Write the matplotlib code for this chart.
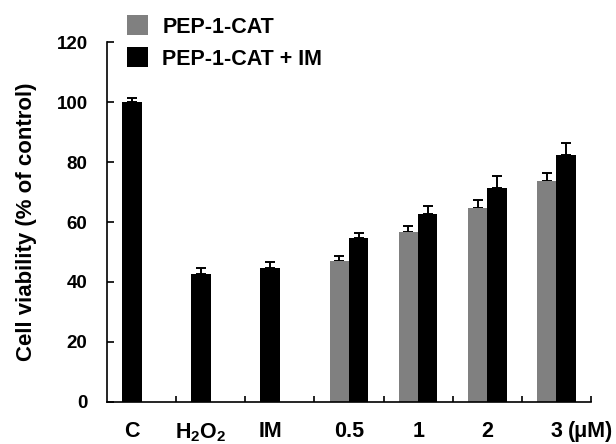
import numpy as np
import matplotlib
matplotlib.use('Agg')
import matplotlib.pyplot as plt
from matplotlib.patches import Patch

plt.rcParams['font.family'] = ['Liberation Sans', 'DejaVu Sans']
plt.rcParams['font.weight'] = 'bold'
plt.rcParams['mathtext.fontset'] = 'custom'
plt.rcParams['mathtext.rm'] = 'Liberation Sans:bold'
plt.rcParams['mathtext.bf'] = 'Liberation Sans:bold'

# --- data ---
categories = ['C', r'H$_2$O$_2$', 'IM', '0.5', '1', '2', '3']
cat_val = [100, 42.7, 44.5, 46.9, 56.5, 64.7, 73.8]     # left slot (gray series; black for controls)
cat_err = [1.5, 1.8, 2.3, 1.9, 2.3, 2.7, 2.6]
im_val = [np.nan, np.nan, np.nan, 54.7, 62.8, 71.3, 82.4]   # PEP-1-CAT + IM
im_err = [0, 0, 0, 1.7, 2.6, 4.2, 4.1]
left_colors = ['black', 'black', 'black', '#808080', '#808080', '#808080', '#808080']

GRAY = '#808080'
fig = plt.figure(figsize=(6.16, 4.44), dpi=100)
ax = fig.add_axes([0.1737, 0.0946, 0.7857, 0.8108])

x = np.arange(len(categories))
w = 0.28

ax.bar(x - w / 2, cat_val, w, color=left_colors, edgecolor='none', zorder=2)
ax.bar(x + w / 2, im_val, w, color='black', edgecolor='none', zorder=2)

ekw = dict(fmt='none', ecolor='black', elinewidth=1.4, capsize=3.3, capthick=1.4, zorder=1)
ax.errorbar(x - w / 2, cat_val, yerr=[np.zeros(len(x)), cat_err], **ekw)
ax.errorbar(x + w / 2, im_val, yerr=[np.zeros(len(x)), im_err], **ekw)

ax.set_xlim(-0.5, len(x) - 0.5)
ax.set_ylim(0, 120)
ax.set_yticks(np.arange(0, 121, 20))
ax.tick_params(axis='y', direction='in', length=5, width=1.2, pad=14, labelsize=13.5)

# single-bar groups are labelled under their bar, pairs under the group centre
label_pos = np.where(np.isnan(im_val), x - w / 2, x)
ax.set_xticks(label_pos)
ax.set_xticklabels(categories, fontsize=15.5, fontweight='bold')
ax.tick_params(axis='x', length=0, pad=14)
ax.set_xticks(np.arange(0.5, len(x), 1.0), minor=True)
ax.tick_params(axis='x', which='minor', direction='in', length=4.5, width=1.2)
ax.annotate('(\u03bcM)', xy=(len(x) - 1 + 0.17, 0), xycoords='data',
            xytext=(0, -14), textcoords='offset points',
            ha='left', va='top', fontsize=15.5, fontweight='bold')

for side in ('top', 'right'):
    ax.spines[side].set_visible(False)
for side in ('left', 'bottom'):
    ax.spines[side].set_linewidth(1.2)

ax.set_ylabel('Cell viability (% of control)', fontsize=16, fontweight='bold', labelpad=14)

handles = [Patch(facecolor=GRAY, edgecolor='none', label='PEP-1-CAT'),
           Patch(facecolor='black', edgecolor='none', label='PEP-1-CAT + IM')]
fig.legend(handles=handles, loc='upper left', bbox_to_anchor=(0.2057, 0.966),
           frameon=False, fontsize=15.5, handlelength=1.01, handleheight=1.07,
           handletextpad=0.64, labelspacing=0.45, borderaxespad=0, borderpad=0)

fig.savefig('out.png', dpi=100)
